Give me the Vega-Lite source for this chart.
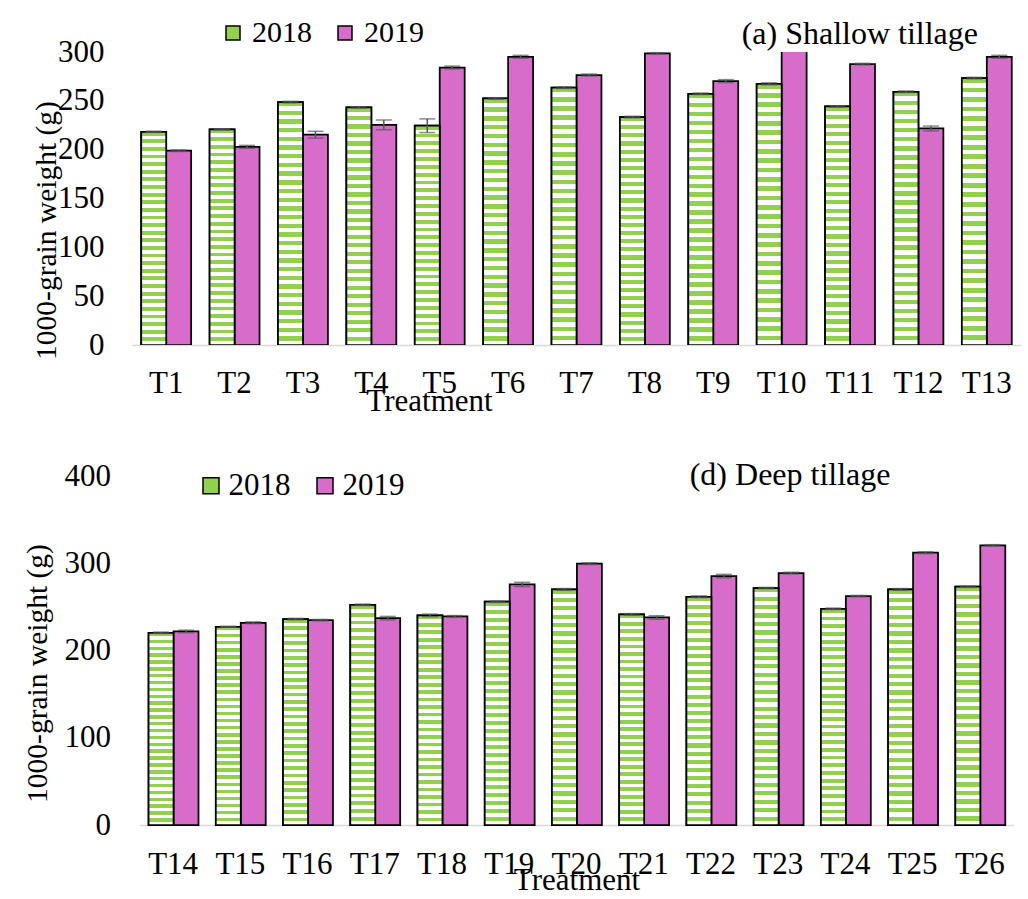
{
  "$schema": "https://vega.github.io/schema/vega-lite/v6.json",
  "padding": {"left": 22, "top": 18, "right": 5, "bottom": 5},
  "background": "white",
  "datasets": {
    "shallow": [
      {"t": "T1", "year": "2018", "w": 218.3, "err": 0.6},
      {"t": "T1", "year": "2019", "w": 198.9, "err": 0.8},
      {"t": "T2", "year": "2018", "w": 220.7, "err": 0.6},
      {"t": "T2", "year": "2019", "w": 202.9, "err": 1.5},
      {"t": "T3", "year": "2018", "w": 248.7, "err": 0.8},
      {"t": "T3", "year": "2019", "w": 215.3, "err": 3.5},
      {"t": "T4", "year": "2018", "w": 243.2, "err": 0.8},
      {"t": "T4", "year": "2019", "w": 225.5, "err": 5},
      {"t": "T5", "year": "2018", "w": 224.5, "err": 7},
      {"t": "T5", "year": "2019", "w": 284.1, "err": 1.5},
      {"t": "T6", "year": "2018", "w": 252.4, "err": 0.8},
      {"t": "T6", "year": "2019", "w": 295.1, "err": 1.5},
      {"t": "T7", "year": "2018", "w": 263.4, "err": 0.8},
      {"t": "T7", "year": "2019", "w": 276.4, "err": 1},
      {"t": "T8", "year": "2018", "w": 233.4, "err": 0.8},
      {"t": "T8", "year": "2019", "w": 298.5, "err": 0.8},
      {"t": "T9", "year": "2018", "w": 257.2, "err": 0.8},
      {"t": "T9", "year": "2019", "w": 270.2, "err": 1.5},
      {"t": "T10", "year": "2018", "w": 267.4, "err": 1},
      {"t": "T10", "year": "2019", "w": 310, "err": 1},
      {"t": "T11", "year": "2018", "w": 244.2, "err": 0.8},
      {"t": "T11", "year": "2019", "w": 287.6, "err": 0.8},
      {"t": "T12", "year": "2018", "w": 259.3, "err": 0.8},
      {"t": "T12", "year": "2019", "w": 221.7, "err": 2.5},
      {"t": "T13", "year": "2018", "w": 273.3, "err": 0.8},
      {"t": "T13", "year": "2019", "w": 295.1, "err": 1.5}
    ],
    "deep": [
      {"t": "T14", "year": "2018", "w": 220.3, "err": 0.8},
      {"t": "T14", "year": "2019", "w": 221.8, "err": 1.5},
      {"t": "T15", "year": "2018", "w": 227.2, "err": 0.6},
      {"t": "T15", "year": "2019", "w": 231.8, "err": 1},
      {"t": "T16", "year": "2018", "w": 236.0, "err": 0.8},
      {"t": "T16", "year": "2019", "w": 234.8, "err": 0.8},
      {"t": "T17", "year": "2018", "w": 252.4, "err": 0.8},
      {"t": "T17", "year": "2019", "w": 237.1, "err": 2},
      {"t": "T18", "year": "2018", "w": 240.2, "err": 1.5},
      {"t": "T18", "year": "2019", "w": 239.0, "err": 1},
      {"t": "T19", "year": "2018", "w": 255.9, "err": 0.8},
      {"t": "T19", "year": "2019", "w": 275.7, "err": 2.5},
      {"t": "T20", "year": "2018", "w": 270.0, "err": 1},
      {"t": "T20", "year": "2019", "w": 299.5, "err": 1},
      {"t": "T21", "year": "2018", "w": 241.3, "err": 1},
      {"t": "T21", "year": "2019", "w": 237.9, "err": 2},
      {"t": "T22", "year": "2018", "w": 261.6, "err": 1},
      {"t": "T22", "year": "2019", "w": 285.3, "err": 2},
      {"t": "T23", "year": "2018", "w": 271.5, "err": 0.8},
      {"t": "T23", "year": "2019", "w": 288.7, "err": 1},
      {"t": "T24", "year": "2018", "w": 247.8, "err": 0.8},
      {"t": "T24", "year": "2019", "w": 262.3, "err": 0.8},
      {"t": "T25", "year": "2018", "w": 270.0, "err": 1},
      {"t": "T25", "year": "2019", "w": 312.1, "err": 1},
      {"t": "T26", "year": "2018", "w": 273.1, "err": 0.8},
      {"t": "T26", "year": "2019", "w": 320.5, "err": 0.8}
    ]
  },
  "vconcat": [
    {
      "width": 889,
      "height": 293,
      "title": {"text": "(a) Shallow tillage", "anchor": "end", "dx": -43, "dy": 33, "offset": 0, "font": "Liberation Serif", "fontSize": 32, "fontWeight": "normal", "color": "#000000"},
      "data": {"name": "shallow"},
      "encoding": {
        "x": {"field": "t", "type": "nominal", "sort": null,
          "scale": {"paddingInner": 0.27, "paddingOuter": 0.135},
          "axis": {"title": "Treatment", "titleX": 297, "titleY": 65, "titleBaseline": "alphabetic", "titleAlign": "center", "labelPadding": 47, "labelBaseline": "alphabetic", "labelAngle": 0, "ticks": false, "grid": false, "domainColor": "#d9d9d9", "domainWidth": 1.5, "labelFont": "Liberation Serif", "labelFontSize": 31, "labelColor": "#000000", "titleFont": "Liberation Serif", "titleFontSize": 31, "titleFontWeight": "normal", "titleColor": "#000000"}},
        "xOffset": {"field": "year", "type": "nominal", "scale": {"domain": ["2018", "2019"], "paddingInner": 0, "paddingOuter": 0}},
        "y": {"field": "w", "type": "quantitative",
          "scale": {"domain": [0, 300], "nice": false, "zero": true},
          "axis": {"values": [0, 50, 100, 150, 200, 250, 300], "title": "1000-grain weight (g)", "titleX": -86, "titleY": 178, "titleAlign": "center", "titleBaseline": "middle", "labelPadding": 28, "domain": false, "ticks": false, "grid": false, "labelFont": "Liberation Serif", "labelFontSize": 31, "labelColor": "#000000", "titleFont": "Liberation Serif", "titleFontSize": 29.5, "titleFontWeight": "normal", "titleColor": "#000000"}}
      },
      "layer": [
        {"mark": {"type": "bar", "stroke": "black", "strokeWidth": 1.75, "clip": true},
          "encoding": {"fill": {"field": "year", "type": "nominal", "scale": {"domain": ["2018", "2019"], "range": ["#92d050", "#d76ccb"]},
            "legend": {"title": null, "orient": "none", "direction": "horizontal", "legendX": 86, "legendY": -34, "symbolType": "square", "symbolSize": 196, "symbolStrokeColor": "#000000", "symbolStrokeWidth": 1.5, "symbolOpacity": 1, "labelFont": "Liberation Serif", "labelFontSize": 30, "labelColor": "#000000", "labelOffset": 4, "columnPadding": 18}}}},
        {"transform": [{"filter": "datum.year == '2018'"}],
          "mark": {"type": "bar", "stroke": "black", "strokeWidth": 1.75, "clip": true,
            "fill": {"gradient": "linear", "x1": 0, "y1": 0, "x2": 0, "y2": 1, "stops": [
{"offset":0,"color":"#92d050"},{"offset":0.0179,"color":"#92d050"},{"offset":0.0179,"color":"#ffffff"},{"offset":0.0357,"color":"#ffffff"},
{"offset":0.0357,"color":"#92d050"},{"offset":0.0536,"color":"#92d050"},{"offset":0.0536,"color":"#ffffff"},{"offset":0.0714,"color":"#ffffff"},
{"offset":0.0714,"color":"#92d050"},{"offset":0.0893,"color":"#92d050"},{"offset":0.0893,"color":"#ffffff"},{"offset":0.1071,"color":"#ffffff"},
{"offset":0.1071,"color":"#92d050"},{"offset":0.125,"color":"#92d050"},{"offset":0.125,"color":"#ffffff"},{"offset":0.1429,"color":"#ffffff"},
{"offset":0.1429,"color":"#92d050"},{"offset":0.1607,"color":"#92d050"},{"offset":0.1607,"color":"#ffffff"},{"offset":0.1786,"color":"#ffffff"},
{"offset":0.1786,"color":"#92d050"},{"offset":0.1964,"color":"#92d050"},{"offset":0.1964,"color":"#ffffff"},{"offset":0.2143,"color":"#ffffff"},
{"offset":0.2143,"color":"#92d050"},{"offset":0.2321,"color":"#92d050"},{"offset":0.2321,"color":"#ffffff"},{"offset":0.25,"color":"#ffffff"},
{"offset":0.25,"color":"#92d050"},{"offset":0.2679,"color":"#92d050"},{"offset":0.2679,"color":"#ffffff"},{"offset":0.2857,"color":"#ffffff"},
{"offset":0.2857,"color":"#92d050"},{"offset":0.3036,"color":"#92d050"},{"offset":0.3036,"color":"#ffffff"},{"offset":0.3214,"color":"#ffffff"},
{"offset":0.3214,"color":"#92d050"},{"offset":0.3393,"color":"#92d050"},{"offset":0.3393,"color":"#ffffff"},{"offset":0.3571,"color":"#ffffff"},
{"offset":0.3571,"color":"#92d050"},{"offset":0.375,"color":"#92d050"},{"offset":0.375,"color":"#ffffff"},{"offset":0.3929,"color":"#ffffff"},
{"offset":0.3929,"color":"#92d050"},{"offset":0.4107,"color":"#92d050"},{"offset":0.4107,"color":"#ffffff"},{"offset":0.4286,"color":"#ffffff"},
{"offset":0.4286,"color":"#92d050"},{"offset":0.4464,"color":"#92d050"},{"offset":0.4464,"color":"#ffffff"},{"offset":0.4643,"color":"#ffffff"},
{"offset":0.4643,"color":"#92d050"},{"offset":0.4821,"color":"#92d050"},{"offset":0.4821,"color":"#ffffff"},{"offset":0.5,"color":"#ffffff"},
{"offset":0.5,"color":"#92d050"},{"offset":0.5179,"color":"#92d050"},{"offset":0.5179,"color":"#ffffff"},{"offset":0.5357,"color":"#ffffff"},
{"offset":0.5357,"color":"#92d050"},{"offset":0.5536,"color":"#92d050"},{"offset":0.5536,"color":"#ffffff"},{"offset":0.5714,"color":"#ffffff"},
{"offset":0.5714,"color":"#92d050"},{"offset":0.5893,"color":"#92d050"},{"offset":0.5893,"color":"#ffffff"},{"offset":0.6071,"color":"#ffffff"},
{"offset":0.6071,"color":"#92d050"},{"offset":0.625,"color":"#92d050"},{"offset":0.625,"color":"#ffffff"},{"offset":0.6429,"color":"#ffffff"},
{"offset":0.6429,"color":"#92d050"},{"offset":0.6607,"color":"#92d050"},{"offset":0.6607,"color":"#ffffff"},{"offset":0.6786,"color":"#ffffff"},
{"offset":0.6786,"color":"#92d050"},{"offset":0.6964,"color":"#92d050"},{"offset":0.6964,"color":"#ffffff"},{"offset":0.7143,"color":"#ffffff"},
{"offset":0.7143,"color":"#92d050"},{"offset":0.7321,"color":"#92d050"},{"offset":0.7321,"color":"#ffffff"},{"offset":0.75,"color":"#ffffff"},
{"offset":0.75,"color":"#92d050"},{"offset":0.7679,"color":"#92d050"},{"offset":0.7679,"color":"#ffffff"},{"offset":0.7857,"color":"#ffffff"},
{"offset":0.7857,"color":"#92d050"},{"offset":0.8036,"color":"#92d050"},{"offset":0.8036,"color":"#ffffff"},{"offset":0.8214,"color":"#ffffff"},
{"offset":0.8214,"color":"#92d050"},{"offset":0.8393,"color":"#92d050"},{"offset":0.8393,"color":"#ffffff"},{"offset":0.8571,"color":"#ffffff"},
{"offset":0.8571,"color":"#92d050"},{"offset":0.875,"color":"#92d050"},{"offset":0.875,"color":"#ffffff"},{"offset":0.8929,"color":"#ffffff"},
{"offset":0.8929,"color":"#92d050"},{"offset":0.9107,"color":"#92d050"},{"offset":0.9107,"color":"#ffffff"},{"offset":0.9286,"color":"#ffffff"},
{"offset":0.9286,"color":"#92d050"},{"offset":0.9464,"color":"#92d050"},{"offset":0.9464,"color":"#ffffff"},{"offset":0.9643,"color":"#ffffff"},
{"offset":0.9643,"color":"#92d050"},{"offset":0.9821,"color":"#92d050"},{"offset":0.9821,"color":"#ffffff"},{"offset":1,"color":"#ffffff"}
            ]}}},
        {"transform": [{"filter": "datum.w <= 300"}],
          "mark": {"type": "errorbar", "ticks": {"size": 16, "thickness": 1.5, "color": "#595959"}, "rule": {"strokeWidth": 1.5, "color": "#595959"}},
          "encoding": {"yError": {"field": "err"}}}
      ]
    },
    {
      "width": 874,
      "height": 349,
      "title": {"text": "(d) Deep tillage", "anchor": "end", "dx": -123, "dy": 32, "offset": 0, "font": "Liberation Serif", "fontSize": 32, "fontWeight": "normal", "color": "#000000"},
      "data": {"name": "deep"},
      "encoding": {
        "x": {"field": "t", "type": "nominal", "sort": null,
          "scale": {"paddingInner": 0.27, "paddingOuter": 0.135},
          "axis": {"title": "Treatment", "titleX": 437, "titleY": 64, "titleBaseline": "alphabetic", "titleAlign": "center", "labelPadding": 48, "labelBaseline": "alphabetic", "labelAngle": 0, "ticks": false, "grid": false, "domainColor": "#d9d9d9", "domainWidth": 1.5, "labelFont": "Liberation Serif", "labelFontSize": 31, "labelColor": "#000000", "titleFont": "Liberation Serif", "titleFontSize": 31, "titleFontWeight": "normal", "titleColor": "#000000"}},
        "xOffset": {"field": "year", "type": "nominal", "scale": {"domain": ["2018", "2019"], "paddingInner": 0, "paddingOuter": 0}},
        "y": {"field": "w", "type": "quantitative",
          "scale": {"domain": [0, 400], "nice": false, "zero": true},
          "axis": {"values": [0, 100, 200, 300, 400], "title": "1000-grain weight (g)", "titleX": -102, "titleY": 197, "titleAlign": "center", "titleBaseline": "middle", "labelPadding": 29, "domain": false, "ticks": false, "grid": false, "labelFont": "Liberation Serif", "labelFontSize": 31, "labelColor": "#000000", "titleFont": "Liberation Serif", "titleFontSize": 29.5, "titleFontWeight": "normal", "titleColor": "#000000"}}
      },
      "layer": [
        {"mark": {"type": "bar", "stroke": "black", "strokeWidth": 1.75},
          "encoding": {"fill": {"field": "year", "type": "nominal", "scale": {"domain": ["2018", "2019"], "range": ["#92d050", "#d76ccb"]},
            "legend": {"title": null, "orient": "none", "direction": "horizontal", "legendX": 56, "legendY": -6, "symbolType": "square", "symbolSize": 256, "symbolStrokeColor": "#000000", "symbolStrokeWidth": 1.5, "symbolOpacity": 1, "labelFont": "Liberation Serif", "labelFontSize": 31, "labelColor": "#000000", "labelOffset": 2, "columnPadding": 19}}}},
        {"transform": [{"filter": "datum.year == '2018'"}],
          "mark": {"type": "bar", "stroke": "black", "strokeWidth": 1.75,
            "fill": {"gradient": "linear", "x1": 0, "y1": 0, "x2": 0, "y2": 1, "stops": [
{"offset":0,"color":"#92d050"},{"offset":0.0179,"color":"#92d050"},{"offset":0.0179,"color":"#ffffff"},{"offset":0.0357,"color":"#ffffff"},
{"offset":0.0357,"color":"#92d050"},{"offset":0.0536,"color":"#92d050"},{"offset":0.0536,"color":"#ffffff"},{"offset":0.0714,"color":"#ffffff"},
{"offset":0.0714,"color":"#92d050"},{"offset":0.0893,"color":"#92d050"},{"offset":0.0893,"color":"#ffffff"},{"offset":0.1071,"color":"#ffffff"},
{"offset":0.1071,"color":"#92d050"},{"offset":0.125,"color":"#92d050"},{"offset":0.125,"color":"#ffffff"},{"offset":0.1429,"color":"#ffffff"},
{"offset":0.1429,"color":"#92d050"},{"offset":0.1607,"color":"#92d050"},{"offset":0.1607,"color":"#ffffff"},{"offset":0.1786,"color":"#ffffff"},
{"offset":0.1786,"color":"#92d050"},{"offset":0.1964,"color":"#92d050"},{"offset":0.1964,"color":"#ffffff"},{"offset":0.2143,"color":"#ffffff"},
{"offset":0.2143,"color":"#92d050"},{"offset":0.2321,"color":"#92d050"},{"offset":0.2321,"color":"#ffffff"},{"offset":0.25,"color":"#ffffff"},
{"offset":0.25,"color":"#92d050"},{"offset":0.2679,"color":"#92d050"},{"offset":0.2679,"color":"#ffffff"},{"offset":0.2857,"color":"#ffffff"},
{"offset":0.2857,"color":"#92d050"},{"offset":0.3036,"color":"#92d050"},{"offset":0.3036,"color":"#ffffff"},{"offset":0.3214,"color":"#ffffff"},
{"offset":0.3214,"color":"#92d050"},{"offset":0.3393,"color":"#92d050"},{"offset":0.3393,"color":"#ffffff"},{"offset":0.3571,"color":"#ffffff"},
{"offset":0.3571,"color":"#92d050"},{"offset":0.375,"color":"#92d050"},{"offset":0.375,"color":"#ffffff"},{"offset":0.3929,"color":"#ffffff"},
{"offset":0.3929,"color":"#92d050"},{"offset":0.4107,"color":"#92d050"},{"offset":0.4107,"color":"#ffffff"},{"offset":0.4286,"color":"#ffffff"},
{"offset":0.4286,"color":"#92d050"},{"offset":0.4464,"color":"#92d050"},{"offset":0.4464,"color":"#ffffff"},{"offset":0.4643,"color":"#ffffff"},
{"offset":0.4643,"color":"#92d050"},{"offset":0.4821,"color":"#92d050"},{"offset":0.4821,"color":"#ffffff"},{"offset":0.5,"color":"#ffffff"},
{"offset":0.5,"color":"#92d050"},{"offset":0.5179,"color":"#92d050"},{"offset":0.5179,"color":"#ffffff"},{"offset":0.5357,"color":"#ffffff"},
{"offset":0.5357,"color":"#92d050"},{"offset":0.5536,"color":"#92d050"},{"offset":0.5536,"color":"#ffffff"},{"offset":0.5714,"color":"#ffffff"},
{"offset":0.5714,"color":"#92d050"},{"offset":0.5893,"color":"#92d050"},{"offset":0.5893,"color":"#ffffff"},{"offset":0.6071,"color":"#ffffff"},
{"offset":0.6071,"color":"#92d050"},{"offset":0.625,"color":"#92d050"},{"offset":0.625,"color":"#ffffff"},{"offset":0.6429,"color":"#ffffff"},
{"offset":0.6429,"color":"#92d050"},{"offset":0.6607,"color":"#92d050"},{"offset":0.6607,"color":"#ffffff"},{"offset":0.6786,"color":"#ffffff"},
{"offset":0.6786,"color":"#92d050"},{"offset":0.6964,"color":"#92d050"},{"offset":0.6964,"color":"#ffffff"},{"offset":0.7143,"color":"#ffffff"},
{"offset":0.7143,"color":"#92d050"},{"offset":0.7321,"color":"#92d050"},{"offset":0.7321,"color":"#ffffff"},{"offset":0.75,"color":"#ffffff"},
{"offset":0.75,"color":"#92d050"},{"offset":0.7679,"color":"#92d050"},{"offset":0.7679,"color":"#ffffff"},{"offset":0.7857,"color":"#ffffff"},
{"offset":0.7857,"color":"#92d050"},{"offset":0.8036,"color":"#92d050"},{"offset":0.8036,"color":"#ffffff"},{"offset":0.8214,"color":"#ffffff"},
{"offset":0.8214,"color":"#92d050"},{"offset":0.8393,"color":"#92d050"},{"offset":0.8393,"color":"#ffffff"},{"offset":0.8571,"color":"#ffffff"},
{"offset":0.8571,"color":"#92d050"},{"offset":0.875,"color":"#92d050"},{"offset":0.875,"color":"#ffffff"},{"offset":0.8929,"color":"#ffffff"},
{"offset":0.8929,"color":"#92d050"},{"offset":0.9107,"color":"#92d050"},{"offset":0.9107,"color":"#ffffff"},{"offset":0.9286,"color":"#ffffff"},
{"offset":0.9286,"color":"#92d050"},{"offset":0.9464,"color":"#92d050"},{"offset":0.9464,"color":"#ffffff"},{"offset":0.9643,"color":"#ffffff"},
{"offset":0.9643,"color":"#92d050"},{"offset":0.9821,"color":"#92d050"},{"offset":0.9821,"color":"#ffffff"},{"offset":1,"color":"#ffffff"}
            ]}}},
        {"mark": {"type": "errorbar", "ticks": {"size": 16, "thickness": 1.5, "color": "#595959"}, "rule": {"strokeWidth": 1.5, "color": "#595959"}},
          "encoding": {"yError": {"field": "err"}}}
      ]
    }
  ],
  "spacing": 131,
  "bounds": "flush",
  "center": true,
  "resolve": {"scale": {"fill": "independent"}, "legend": {"fill": "independent"}},
  "config": {
    "font": "Liberation Serif",
    "view": {"stroke": null}
  }
}
